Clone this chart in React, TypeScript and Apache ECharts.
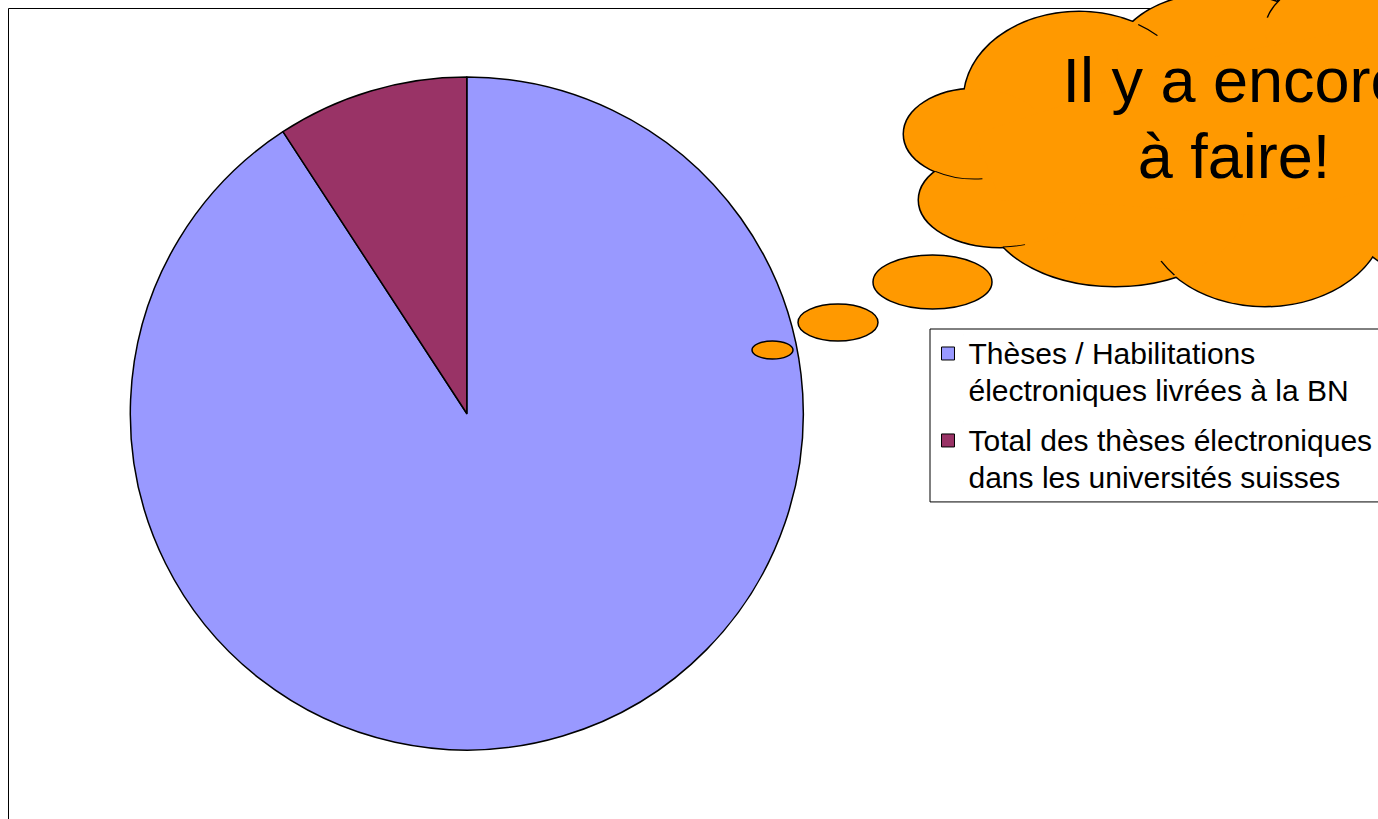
import React, { useEffect, useRef } from 'react';
import * as echarts from 'echarts';

// ---- data ----
const categories = [
  'Thèses / Habilitations\nélectroniques livrées à la BN',
  'Total des thèses électroniques\ndans les universités suisses',
];
const values = [90.8, 9.2];
const sliceColors = ['#9999FF', '#993366'];
const calloutLines = ['Il y a encore', 'à faire!'];

const ORANGE = '#FF9900';
const FONT = '"Liberation Sans", Arial, sans-serif';

// cloud lobes: [cx, cy, rx, ry]
const lobes: number[][] = [
  [1079, 100, 115, 88], // top-left
  [1222, 55, 105, 62], // top-middle
  [1355, 30, 90, 55], // top-right
  [1450, 172, 120, 110], // right
  [1265, 216, 120, 90], // bottom-right
  [1115, 205, 130, 81], // bottom
  [1000, 200, 81, 47], // lower-left
  [975, 134, 71, 45], // left
];
// interior arc stubs: [lobeIndex, startDeg, endDeg]
const stubs: number[][] = [
  [0, -59, -47],
  [7, 84, 124],
  [6, 72, 88],
  [4, 139, 150],
  [2, 193, 215],
];
// thought bubbles: [cx, cy, rx, ry]
const bubbles: number[][] = [
  [772.5, 350, 20.5, 9],
  [838, 322.5, 40, 18.5],
  [932.5, 282, 59.5, 27],
];

export default function App() {
  const ref = useRef<HTMLDivElement>(null);

  useEffect(() => {
    if (!ref.current) return;
    const chart = echarts.init(ref.current, null, { renderer: 'svg' });

    const elements: any[] = [];
    // outer frame
    elements.push({
      type: 'rect',
      shape: { x: 8.5, y: 8.5, width: 1600, height: 1000 },
      style: { fill: 'none', stroke: '#000', lineWidth: 1 },
      z: 0,
      silent: true,
    });
    // bubbles
    bubbles.forEach((b) => {
      elements.push({
        type: 'ellipse',
        shape: { cx: b[0], cy: b[1], rx: b[2], ry: b[3] },
        style: { fill: ORANGE, stroke: '#000', lineWidth: 1.5 },
        z: 10,
        silent: true,
      });
    });
    // cloud pass 1: stroked lobes
    lobes.forEach((l) => {
      elements.push({
        type: 'ellipse',
        shape: { cx: l[0], cy: l[1], rx: l[2], ry: l[3] },
        style: { fill: ORANGE, stroke: '#000', lineWidth: 3 },
        z: 11,
        silent: true,
      });
    });
    // cloud pass 2: fills only
    lobes.forEach((l) => {
      elements.push({
        type: 'ellipse',
        shape: { cx: l[0], cy: l[1], rx: l[2], ry: l[3] },
        style: { fill: ORANGE },
        z: 12,
        silent: true,
      });
    });
    elements.push({
      type: 'polygon',
      shape: { points: lobes.map((l) => [l[0], l[1]]) },
      style: { fill: ORANGE },
      z: 12,
      silent: true,
    });
    // interior stubs
    stubs.forEach((s) => {
      const l = lobes[s[0]];
      elements.push({
        type: 'arc',
        x: l[0],
        y: l[1],
        scaleY: l[3] / l[2],
        shape: {
          cx: 0,
          cy: 0,
          r: l[2],
          startAngle: (s[1] * Math.PI) / 180,
          endAngle: (s[2] * Math.PI) / 180,
          clockwise: true,
        },
        style: { stroke: '#000', lineWidth: 1.5, fill: null, strokeNoScale: true },
        z: 13,
        silent: true,
      });
    });
    // callout text
    const lineY = [80, 155.5];
    calloutLines.forEach((t, i) => {
      elements.push({
        type: 'text',
        x: 1234,
        y: lineY[i],
        style: {
          text: t,
          fill: '#000',
          font: `63px ${FONT}`,
          align: 'center',
          verticalAlign: 'middle',
        },
        z: 14,
        silent: true,
      });
    });

    const legendIcon =
      'path://M0,0L0.01,0M22,0L22.01,0M0,12L13,12L13,25L0,25ZM0,74L0.01,74';

    chart.setOption({
      animation: false,
      backgroundColor: '#fff',
      legend: {
        orient: 'vertical',
        left: 930,
        top: 329,
        padding: [5.5, 24, 5.5, 11],
        itemGap: 12,
        itemWidth: 22,
        itemHeight: 74,
        icon: legendIcon,
        borderColor: '#000',
        borderWidth: 1,
        selectedMode: false,
        itemStyle: { borderColor: '#000', borderWidth: 1 },
        textStyle: {
          fontFamily: FONT,
          fontSize: 30,
          lineHeight: 37,
          color: '#000',
        },
        data: categories,
      },
      graphic: { elements },
      series: [
        {
          type: 'pie',
          center: [466.8, 413.5],
          radius: 336.5,
          startAngle: 90,
          clockwise: true,
          silent: true,
          label: { show: false },
          labelLine: { show: false },
          emphasis: { disabled: true },
          itemStyle: { borderColor: '#000', borderWidth: 1.5 },
          data: categories.map((name, i) => ({
            name,
            value: values[i],
            itemStyle: { color: sliceColors[i] },
          })),
        },
      ],
    });

    return () => chart.dispose();
  }, []);

  return (
    <div
      ref={ref}
      style={{ position: 'absolute', left: 0, top: 0, width: 1378, height: 819 }}
    />
  );
}
